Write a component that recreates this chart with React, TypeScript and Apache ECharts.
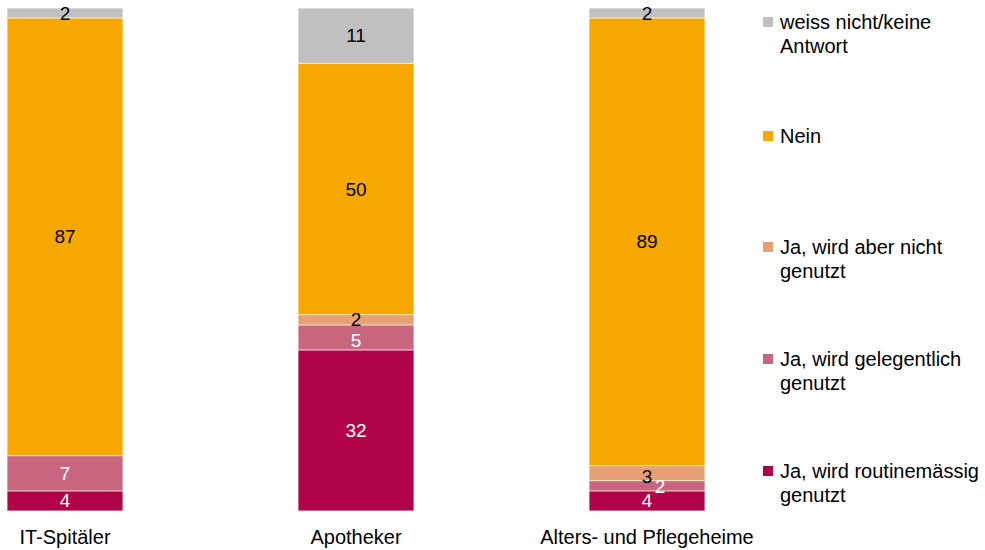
import React, { useEffect, useRef } from "react";
import * as echarts from "echarts";

const categories = ["IT-Spitäler", "Apotheker", "Alters- und Pflegeheime"];
const seriesNames = [
  "Ja, wird routinemässig genutzt",
  "Ja, wird gelegentlich genutzt",
  "Ja, wird aber nicht genutzt",
  "Nein",
  "weiss nicht/keine Antwort",
];
const routine = [4, 32, 4];
const gelegentlich = [7, 5, 2];
const abernicht = [0, 2, 3];
const nein = [87, 50, 89];
const weissnicht = [2, 11, 2];

const colors = ["#B00446", "#C9667F", "#E6A073", "#F6A800", "#C0C0C0"];
const labelColors = ["#fff", "#fff", "#000", "#000", "#000"];
const legendLines = [
  ["weiss nicht/keine", "Antwort"],
  ["Nein"],
  ["Ja, wird aber nicht", "genutzt"],
  ["Ja, wird gelegentlich", "genutzt"],
  ["Ja, wird routinemässig", "genutzt"],
];
const legendColors = ["#C0C0C0", "#F6A800", "#E6A073", "#C9667F", "#B00446"];

export default function App() {
  const ref = useRef<HTMLDivElement>(null);
  useEffect(() => {
    const chart = echarts.init(ref.current!, null, { renderer: "svg" });
    const values = [routine, gelegentlich, abernicht, nein, weissnicht];
    const font = "Liberation Sans, Arial, sans-serif";
    const series = values.map((vals, si) => ({
      name: seriesNames[si],
      type: "bar",
      stack: "total",
      barWidth: 116,
      itemStyle: { color: colors[si], borderColor: "rgba(255,255,255,0.5)", borderWidth: 0.5 },
      label: {
        show: true,
        position: "inside",
        color: labelColors[si],
        fontSize: 19,
        lineHeight: 16,
        fontFamily: font,
        formatter: (p: any) => (p.value ? String(p.value) : ""),
      },
      data: vals.map((v, ci) => {
        if (ci === 2 && si === 1) return { value: v, label: { offset: [13, 1] } };
        if (ci === 2 && si === 2) return { value: v, label: { offset: [0, 3] } };
        if (ci === 1 && si === 2) return { value: v, label: { offset: [0, 0] } };
        if (ci === 1 && si === 1) return { value: v, label: { offset: [0, 3.5] } };
        return v;
      }),
    }));
    const graphics: any[] = [];
    const tops = [22, 136, 247, 359, 471];
    legendLines.forEach((lines, i) => {
      graphics.push({
        type: "rect",
        shape: { x: 763, y: tops[i] - 5, width: 10, height: 10 },
        style: { fill: legendColors[i] },
      });
      lines.forEach((t, j) => {
        graphics.push({
          type: "text",
          x: 780,
          y: tops[i] + j * 24,
          style: {
            text: t,
            fill: "#000",
            fontSize: 20,
            fontFamily: font,
            verticalAlign: "middle",
          },
        });
      });
    });
    chart.setOption({
      animation: false,
      grid: { left: 65, top: 8, right: 338, bottom: 39 },
      xAxis: {
        type: "category",
        data: categories,
        boundaryGap: false,
        axisLine: { show: false },
        axisTick: { show: false },
        axisLabel: { color: "#000", fontSize: 20, fontFamily: font, margin: 16 },
      },
      yAxis: {
        type: "value",
        min: 0,
        max: 100,
        show: false,
        splitLine: { show: false },
      },
      series,
      graphic: graphics,
    });
    return () => chart.dispose();
  }, []);
  return <div ref={ref} style={{ width: 985, height: 550, position: "absolute", left: 0, top: 0 }} />;
}
